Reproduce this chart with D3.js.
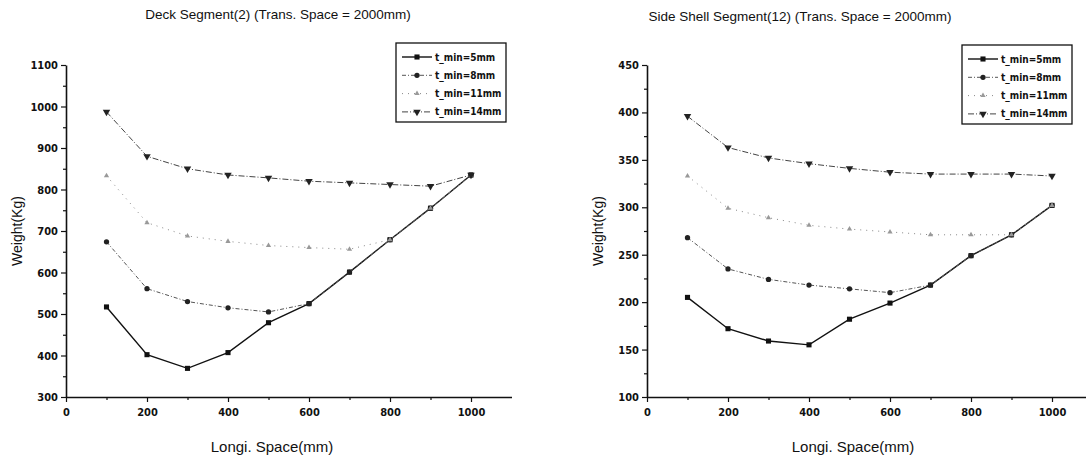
<!DOCTYPE html>
<html>
<head>
<meta charset="utf-8">
<script src="https://cdn.jsdelivr.net/npm/d3@7"></script>
<style>
  body { margin: 0; background: #fff; }
  svg { display: block; }
  text { fill: #111; }
</style>
</head>
<body>
<div id="chart"></div>
<script>
// x values (Longi. Space, mm)
const longiSpace = [100, 200, 300, 400, 500, 600, 700, 800, 900, 1000];
const seriesNames = ["t_min=5mm", "t_min=8mm", "t_min=11mm", "t_min=14mm"];

// Deck Segment(2) weights (Kg)
const deck5 = [517, 402, 369, 407, 479, 525, 601, 679, 755, 835];
const deck8 = [674, 561, 530, 515, 505, 525, 601, 679, 755, 835];
const deck11 = [833, 720, 688, 675, 665, 660, 656, 679, 755, 835];
const deck14 = [987, 880, 850, 835, 828, 820, 816, 812, 808, 835];

// Side Shell Segment(12) weights (Kg)
const side5 = [205, 172, 159, 155, 182, 199, 218, 249, 271, 302];
const side8 = [268, 235, 224, 218, 214, 210, 218, 249, 271, 302];
const side11 = [333, 299, 289, 281, 277, 274, 271, 271, 271, 302];
const side14 = [396, 363, 352, 346, 341, 337, 335, 335, 335, 333];

const xTicks = [0, 200, 400, 600, 800, 1000];
const deckYTicks = [300, 400, 500, 600, 700, 800, 900, 1000, 1100];
const sideYTicks = [100, 150, 200, 250, 300, 350, 400, 450];

const width = 1086, height = 457;
const narrow = "'DejaVu Sans Condensed', 'Liberation Sans Narrow', 'Liberation Sans', Arial, sans-serif";
const plain = "'Liberation Sans', Arial, sans-serif";

// line / marker style per series
const styles = [
  { dash: null, stroke: "#111", sw: 1.4, marker: d3.symbolSquare, size: 26, fill: "#111" },
  { dash: "4,2,1,2", stroke: "#555", sw: 1, marker: d3.symbolCircle, size: 22, fill: "#222" },
  { dash: "1,5", stroke: "#888", sw: 1, marker: d3.symbolTriangle, size: 12, fill: "#999" },
  { dash: "6,2,1,2", stroke: "#444", sw: 1, marker: d3.symbolTriangle, size: 24, fill: "#222", rotate: 180 }
];

const svg = d3.select("#chart").append("svg")
  .attr("width", width)
  .attr("height", height)
  .attr("viewBox", [0, 0, width, height]);

function drawPanel(cfg) {
  const x = d3.scaleLinear().domain([0, 1100]).range([cfg.left, cfg.left + 445.5]);
  const y = d3.scaleLinear().domain(cfg.yDomain).range([397, 65]);
  const g = svg.append("g");

  // minor ticks
  g.append("g")
    .attr("transform", `translate(0,${y.range()[0]})`)
    .call(d3.axisBottom(x).tickValues(d3.range(100, 1100, 200)).tickSize(3).tickFormat(""))
    .call(a => a.select(".domain").remove());
  g.append("g")
    .attr("transform", `translate(${cfg.left},0)`)
    .call(d3.axisLeft(y).tickValues(cfg.yMinor).tickSize(3).tickFormat(""))
    .call(a => a.select(".domain").remove());

  const xa = g.append("g")
    .attr("transform", `translate(0,${y.range()[0]})`)
    .call(d3.axisBottom(x).tickValues(xTicks).tickSize(5).tickSizeOuter(0).tickPadding(6).tickFormat(d3.format("d")));
  const ya = g.append("g")
    .attr("transform", `translate(${cfg.left},0)`)
    .call(d3.axisLeft(y).tickValues(cfg.yTicks).tickSize(5).tickSizeOuter(0).tickPadding(3).tickFormat(d3.format("d")));
  [xa, ya].forEach(a => {
    a.select(".domain").attr("stroke", "#111").attr("stroke-width", 1.6);
    a.selectAll("text")
      .style("font-family", narrow)
      .style("font-weight", "bold")
      .style("font-size", "11px")
      .attr("fill", "#111");
  });
  g.selectAll(".tick line").attr("stroke", "#111").attr("stroke-width", 1.2);

  // series
  cfg.series.forEach((vals, i) => {
    const s = styles[i];
    const pts = longiSpace.map((v, k) => [v, vals[k]]);
    g.append("path")
      .attr("d", d3.line().x(d => x(d[0])).y(d => y(d[1]))(pts))
      .attr("fill", "none")
      .attr("stroke", s.stroke)
      .attr("stroke-width", s.sw)
      .attr("stroke-dasharray", s.dash);
    g.selectAll(null).data(pts).enter().append("path")
      .attr("d", d3.symbol().type(s.marker).size(s.size))
      .attr("transform", d => `translate(${x(d[0])},${y(d[1])})` + (s.rotate ? ` rotate(${s.rotate})` : ""))
      .attr("fill", s.fill);
  });

  // title & axis labels
  svg.append("text")
    .attr("x", cfg.titleX).attr("y", cfg.titleY)
    .attr("text-anchor", "middle")
    .style("font-family", plain)
    .style("font-size", "13.5px")
    .text(cfg.title);
  svg.append("text")
    .attr("x", cfg.left + 206).attr("y", 452)
    .attr("text-anchor", "middle")
    .style("font-family", plain)
    .style("font-size", "15px")
    .text("Longi. Space(mm)");
  svg.append("text")
    .attr("transform", `translate(${cfg.left - 44},231) rotate(-90)`)
    .attr("text-anchor", "middle")
    .style("font-family", plain)
    .style("font-size", "14px")
    .text("Weight(Kg)");

  // legend
  const lg = svg.append("g").attr("transform", `translate(${cfg.legend[0]},${cfg.legend[1]})`);
  lg.append("rect")
    .attr("width", 110).attr("height", 79)
    .attr("fill", "#fff").attr("stroke", "#111").attr("stroke-width", 1.3);
  seriesNames.forEach((name, i) => {
    const s = styles[i];
    const yy = 14 + i * 18.3;
    lg.append("line")
      .attr("x1", 6).attr("x2", 36).attr("y1", yy).attr("y2", yy)
      .attr("stroke", s.stroke).attr("stroke-width", s.sw)
      .attr("stroke-dasharray", s.dash);
    lg.append("path")
      .attr("d", d3.symbol().type(s.marker).size(s.size))
      .attr("transform", `translate(21,${yy})` + (s.rotate ? ` rotate(${s.rotate})` : ""))
      .attr("fill", s.fill);
    lg.append("text")
      .attr("x", 39).attr("y", yy).attr("dy", "0.35em")
      .style("font-family", narrow)
      .style("font-weight", "bold")
      .style("font-size", "10px")
      .text(name);
  });
}

drawPanel({
  left: 66,
  yDomain: [300, 1100],
  yTicks: deckYTicks,
  yMinor: d3.range(350, 1100, 100),
  series: [deck5, deck8, deck11, deck14],
  title: "Deck Segment(2) (Trans. Space = 2000mm)",
  titleX: 278, titleY: 19,
  legend: [396, 43]
});

drawPanel({
  left: 647,
  yDomain: [100, 450],
  yTicks: sideYTicks,
  yMinor: d3.range(125, 450, 50),
  series: [side5, side8, side11, side14],
  title: "Side Shell Segment(12) (Trans. Space = 2000mm)",
  titleX: 800, titleY: 21,
  legend: [962, 45]
});
</script>
</body>
</html>
